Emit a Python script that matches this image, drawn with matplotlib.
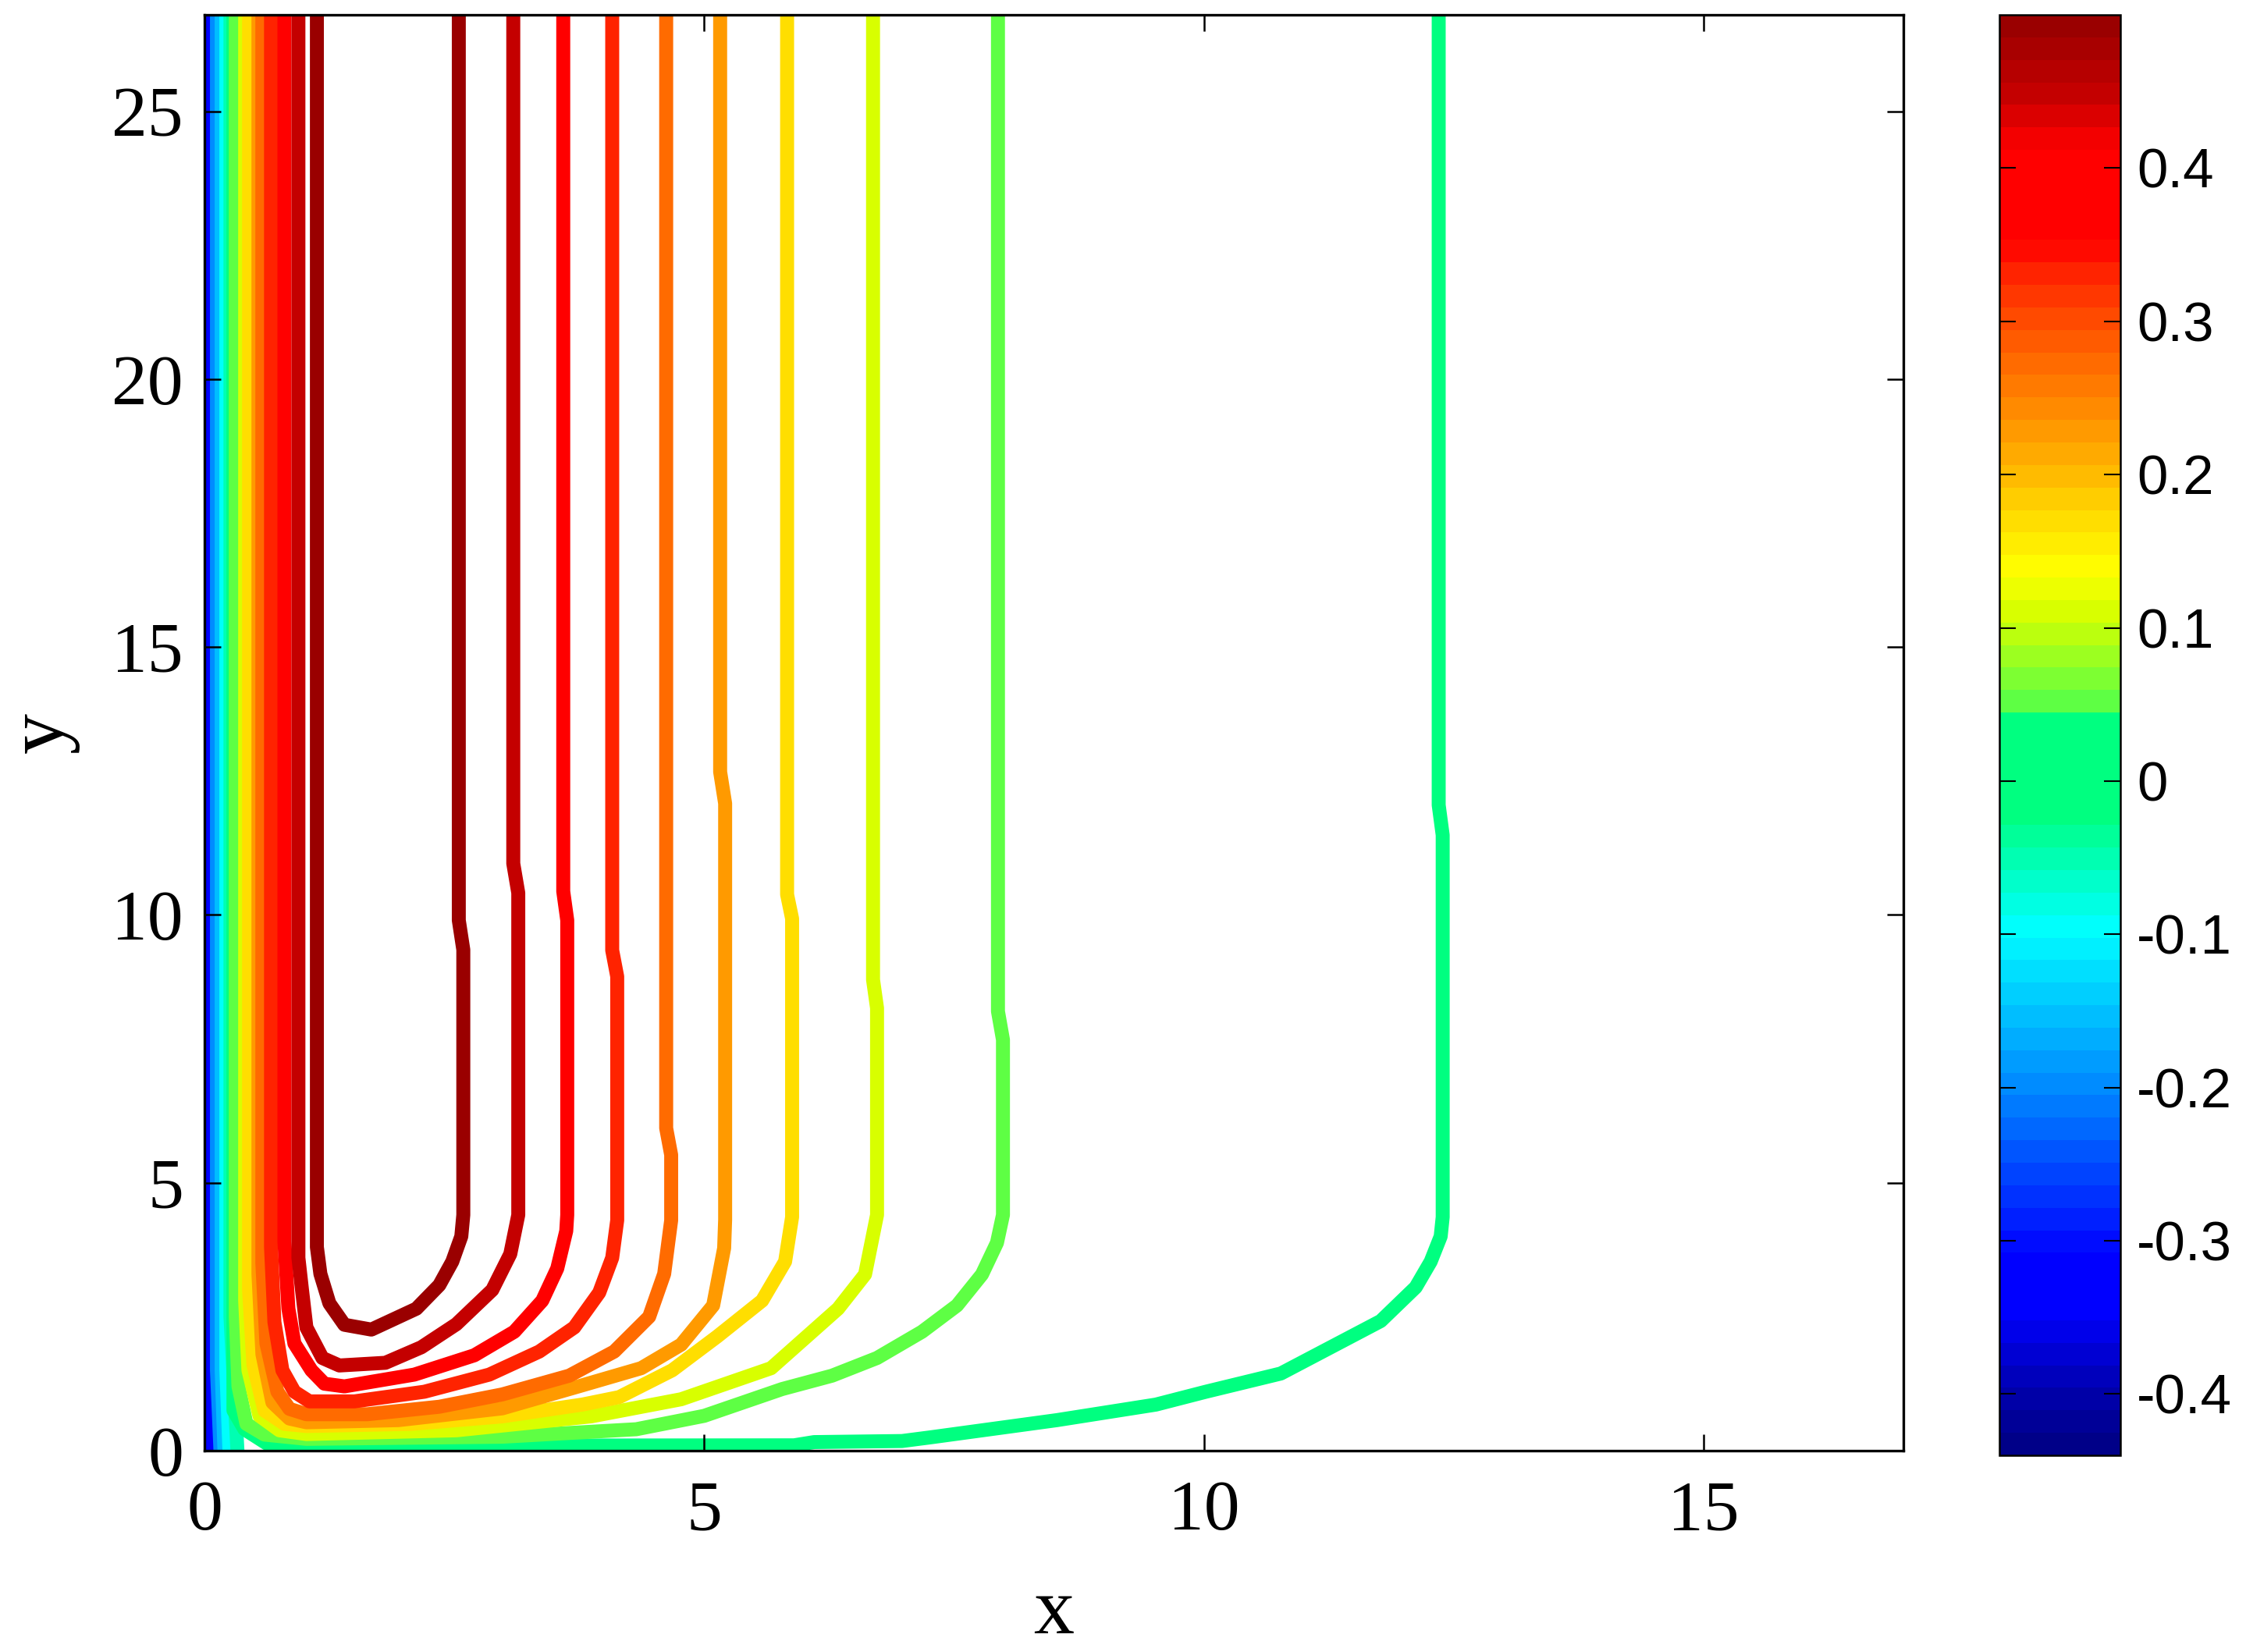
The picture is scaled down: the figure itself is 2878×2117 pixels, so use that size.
import numpy as np
import matplotlib
matplotlib.use('Agg')
import matplotlib.pyplot as plt
from matplotlib.colors import LinearSegmentedColormap, ListedColormap, Normalize
from matplotlib.cm import ScalarMappable
from matplotlib.ticker import FuncFormatter

plt.rcParams['font.family'] = ['Liberation Serif', 'DejaVu Serif']
plt.rcParams['axes.unicode_minus'] = False

# colour scale (value -> colour)
cmap_vals = [-0.44, -0.40, -0.345, -0.31, -0.2, -0.095, -0.02, 0.044, 0.045, 0.052,
             0.11, 0.14, 0.17, 0.225, 0.27, 0.30, 0.33, 0.355, 0.41, 0.426, 0.448, 0.50]
cmap_cols = ['#000080', '#0000aa', '#0000ff', '#0000ff', '#0088ff', '#00ffff', '#00ff80',
             '#00ff80', '#5aff46', '#5aff46', '#d4ff00', '#ffff00', '#ffe000', '#ffa000',
             '#ff7000', '#ff5000', '#ff2a00', '#ff0000', '#ff0000', '#f00000', '#c80000',
             '#960000']
vmin, vmax = -0.44, 0.50

# contour levels and their traced paths (x, y)
levels = [-0.33, -0.2, -0.15, -0.1, -0.05, 0.0, 0.052, 0.11, 0.168, 0.225, 0.27, 0.33, 0.38, 0.448, 0.49]

x_m033 = [0.0, 0.0, 0.04]
y_m033 = [27, 1.5, 0.0]
x_m020 = [0.125, 0.125, 0.16]
y_m020 = [27, 1.5, 0.0]
x_m015 = [0.172, 0.172, 0.2]
y_m015 = [27, 1.5, 0.0]
x_m010 = [0.219, 0.219, 0.25]
y_m010 = [27, 1.5, 0.0]
x_m005 = [0.26, 0.26, 0.33]
y_m005 = [27, 2.5, 0.0]
x_000 = [0.29, 0.29, 0.40, 0.66, 5.9, 6.1, 6.98, 7.27, 8.53, 9.52, 10.02, 10.77, 11.27,
         11.77, 12.12, 12.27, 12.37, 12.39, 12.39, 12.35, 12.35]
y_000 = [27, 0.75, 0.40, 0.09, 0.10, 0.16, 0.18, 0.25, 0.57, 0.86, 1.1, 1.44, 1.93,
         2.42, 3.05, 3.53, 4.0, 4.36, 11.49, 12.05, 27]
x_005 = [0.313, 0.313, 0.34, 0.42, 0.6, 1.02, 2.98, 4.32, 5.0, 5.78, 6.28, 6.73, 7.18,
         7.53, 7.78, 7.93, 7.99, 7.99, 7.94, 7.94]
y_005 = [27, 2.5, 1.2, 0.5, 0.3, 0.22, 0.26, 0.40, 0.65, 1.15, 1.4, 1.73, 2.22,
         2.71, 3.29, 3.88, 4.4, 7.67, 8.2, 27]
x_011 = [0.407, 0.407, 0.44, 0.55, 0.75, 1.02, 2.52, 3.87, 4.77, 5.67, 6.34, 6.61, 6.73,
         6.73, 6.69, 6.69]
y_011 = [27, 2.8, 1.5, 0.65, 0.38, 0.31, 0.38, 0.64, 0.96, 1.54, 2.65, 3.29, 4.4,
         8.26, 8.79, 27]
x_017 = [0.446, 0.446, 0.49, 0.6, 0.8, 1.02, 2.07, 2.98, 3.78, 4.15, 4.68, 5.13, 5.58,
         5.81, 5.88, 5.88, 5.83, 5.83]
y_017 = [27, 3.0, 1.6, 0.75, 0.5, 0.46, 0.5, 0.64, 0.86, 1.0, 1.5, 2.13, 2.80,
         3.53, 4.36, 9.93, 10.38, 27]
x_022 = [0.54, 0.54, 0.58, 0.68, 0.85, 1.02, 1.94, 2.98, 3.78, 4.37, 4.77, 5.09, 5.2,
         5.21, 5.21, 5.16, 5.16]
y_022 = [27, 3.3, 1.8, 0.9, 0.6, 0.53, 0.57, 0.79, 1.22, 1.54, 1.98, 2.71, 3.78,
         4.31, 12.08, 12.67, 27]
x_027 = [0.579, 0.579, 0.62, 0.73, 0.85, 1.02, 1.63, 2.35, 2.98, 3.65, 4.1, 4.45, 4.6,
         4.67, 4.67, 4.62, 4.62]
y_027 = [27, 3.5, 2.0, 1.1, 0.78, 0.68, 0.68, 0.82, 1.05, 1.4, 1.85, 2.5, 3.3,
         4.3, 5.52, 6.02, 27]
x_033 = [0.666, 0.666, 0.70, 0.78, 0.9, 1.05, 1.5, 2.2, 2.85, 3.35, 3.7, 3.95, 4.08,
         4.13, 4.13, 4.08, 4.08]
y_033 = [27, 3.8, 2.4, 1.5, 1.1, 0.92, 0.92, 1.1, 1.42, 1.85, 2.3, 2.95, 3.6,
         4.3, 8.85, 9.34, 27]
x_038 = [0.80, 0.80, 0.84, 0.90, 1.07, 1.20, 1.40, 2.1, 2.7, 3.1, 3.38, 3.53, 3.62,
         3.63, 3.63, 3.59, 3.59]
y_038 = [27, 3.9, 2.65, 2.0, 1.5, 1.25, 1.2, 1.42, 1.78, 2.22, 2.8, 3.4, 4.1,
         4.4, 9.9, 10.44, 27]
x_045 = [0.94, 0.94, 0.976, 1.02, 1.18, 1.35, 1.81, 2.17, 2.52, 2.88, 3.06, 3.14, 3.14,
         3.09, 3.09]
y_045 = [27, 3.6, 3.0, 2.3, 1.73, 1.59, 1.64, 1.93, 2.36, 3.0, 3.67, 4.4, 10.41,
         10.96, 27]
x_049 = [1.125, 1.125, 1.16, 1.25, 1.40, 1.67, 2.12, 2.35, 2.48, 2.57, 2.59, 2.59,
         2.545, 2.545]
y_049 = [27, 3.8, 3.3, 2.75, 2.35, 2.26, 2.65, 3.09, 3.53, 4.0, 4.4, 9.35,
         9.9, 27]

paths_x = [x_m033, x_m020, x_m015, x_m010, x_m005, x_000, x_005, x_011, x_017,
           x_022, x_027, x_033, x_038, x_045, x_049]
paths_y = [y_m033, y_m020, y_m015, y_m010, y_m005, y_000, y_005, y_011, y_017,
           y_022, y_027, y_033, y_038, y_045, y_049]

xticks = [0, 5, 10, 15]
yticks = [0, 5, 10, 15, 20, 25]
cbar_ticks = [-0.4, -0.3, -0.2, -0.1, 0.0, 0.1, 0.2, 0.3, 0.4]

# 64-band colormap like the original
pos = [(v - vmin) / (vmax - vmin) for v in cmap_vals]
smooth = LinearSegmentedColormap.from_list('tec', list(zip(pos, cmap_cols)))
cmap = ListedColormap(smooth((np.arange(64) + 0.5) / 64))
norm = Normalize(vmin, vmax)

W, H = 2879, 2117
fig = plt.figure(figsize=(W / 300, H / 300), dpi=300)
ax = fig.add_axes([262 / W, 1 - 1859 / H, (2439 - 262) / W, (1859 - 19) / H])
cax = fig.add_axes([2562 / W, 1 - 1865 / H, (2717 - 2562) / W, (1865 - 19) / H])

for lv, xs, ys in zip(levels, paths_x, paths_y):
    ax.plot(xs, ys, color=cmap(norm(lv)), lw=4.3, solid_capstyle='butt',
            solid_joinstyle='round', zorder=2)

ax.set_xlim(0, 17)
ax.set_ylim(0, 26.8)
ax.set_xticks(xticks)
ax.set_yticks(yticks)
ax.set_axisbelow(False)
ax.tick_params(direction='in', top=True, right=True, length=5, width=0.6, labelsize=22)
ax.tick_params(axis='x', pad=9)
ax.tick_params(axis='y', pad=6.5)
for sp in ax.spines.values():
    sp.set_linewidth(0.8)
    sp.set_zorder(3)
ax.set_xlabel('x', fontsize=25, labelpad=10)
ax.set_ylabel('y', fontsize=25, labelpad=10)

sm = ScalarMappable(norm=norm, cmap=cmap)
cb = fig.colorbar(sm, cax=cax, ticks=cbar_ticks)
cb.outline.set_linewidth(0.6)
cax.yaxis.set_major_formatter(FuncFormatter(lambda v, p: '0' if abs(v) < 1e-9 else f'{v:.1f}'))
cax.tick_params(direction='in', left=True, right=True, length=5, width=0.5,
                labelsize=17, pad=5)
for lab in cax.get_yticklabels():
    lab.set_fontfamily(['Liberation Sans', 'DejaVu Sans'])

fig.savefig('out.png', dpi=300)
